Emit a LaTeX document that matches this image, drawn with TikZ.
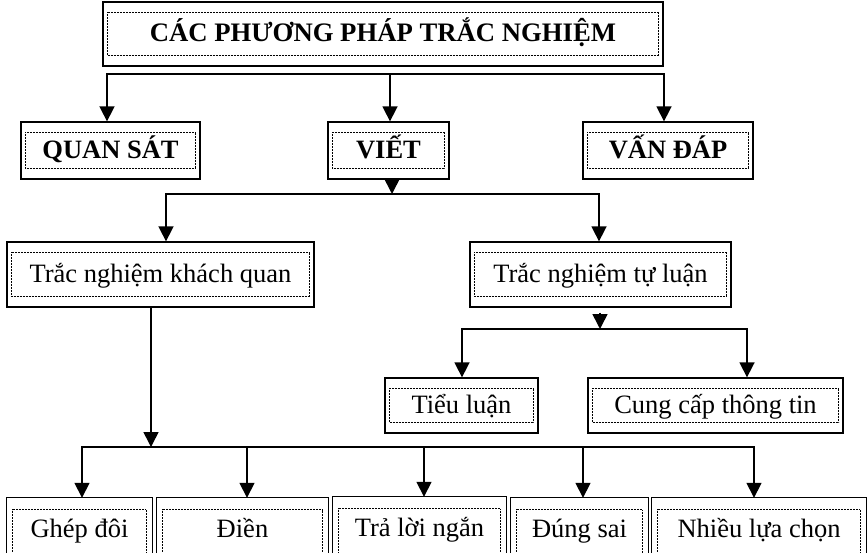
\documentclass[tikz,border=0pt]{standalone}
\usepackage{fontspec}
\setmainfont{Liberation Serif}
\usetikzlibrary{arrows.meta}
\tikzset{
  outerst/.style={draw=black, line width=1.3pt},
  innerst/.style={draw=black, line width=0.7pt, dash pattern=on 0.8pt off 0.7pt},
  txt/.style={inner sep=0pt, text height=21pt, text depth=5pt, font=\fontsize{26.5}{30}\selectfont},
  boxst/.style={txt, outerst},
  openst/.style={txt},
  conn/.style={line width=1.6pt, line join=miter},
  arr/.style={conn, -{Triangle[length=15pt,width=15pt]}},
}
\newcommand{\boxat}[6]{%
  \node[boxst, minimum width={#4-#2}, minimum height={#5-#3}] (#1) at ({(#2+#4)/2},{(#3+#5)/2}) {#6};
  \draw[innerst] ([shift={(5,11)}]#1.north west) rectangle ([shift={(-5,-11)}]#1.south east);
}
\newcommand{\openbox}[5]{%
  \node[openst, minimum width={#4-#2}, minimum height=62] (#1) at ({(#2+#4)/2},{#3+31}) {#5};
  \draw[outerst] (#1.north west) ++(0,80) -- (#1.north west) -- (#1.north east) -- ++(0,80);
  \draw[innerst] ([shift={(6,90)}]#1.north west) -- ([shift={(6,12)}]#1.north west) -- ([shift={(-6,12)}]#1.north east) -- ([shift={(-6,90)}]#1.north east);
}
\begin{document}
\begin{tikzpicture}[x=1pt,y=-1pt]
\fill[white] (0,0) rectangle (867,553);
\useasboundingbox (0,0) rectangle (867,553);
\clip (0,0) rectangle (867,553);

\boxat{title}{103}{2}{663}{66}{\fontsize{26.7}{30}\selectfont\bfseries CÁC PHƯƠNG PHÁP TRẮC NGHIỆM}
\boxat{quansat}{21}{122}{200}{179}{\bfseries QUAN SÁT}
\boxat{viet}{328}{122}{449}{179}{\bfseries VIẾT}
\boxat{vandap}{583}{122}{753}{179}{\bfseries VẤN ĐÁP}
\boxat{khachquan}{7}{242}{314}{307}{Trắc nghiệm khách quan}
\boxat{tuluan}{470}{242}{731}{307}{Trắc nghiệm tự luận}
\boxat{tieuluan}{385}{378}{538}{433}{Tiểu luận}
\boxat{cungcap}{588}{378}{843}{433}{Cung cấp thông tin}
\openbox{ghep}{7}{498}{152}{Ghép đôi}
\openbox{dien}{157}{498}{328}{Điền}
\openbox{traloi}{333}{497}{506}{Trả lời ngắn}
\openbox{dungsai}{511}{498}{648}{Đúng sai}
\openbox{nhieu}{652}{498}{866}{Nhiều lựa chọn}

% level 1 bar
\coordinate (t1) at (107,74);
\coordinate (tm) at (390,74);
\coordinate (t2) at (664,74);
\draw[arr] (tm) -- (t1) -- (t1 |- quansat.north);
\draw[arr] (tm) -- (t2) -- (t2 |- vandap.north);
\draw[arr] (tm) -- (tm |- viet.north);

% level 2 bar
\coordinate (vb) at (392,194);
\coordinate (v1) at (166,194);
\coordinate (v2) at (599,194);
\draw[arr] (vb |- viet.south) -- (vb);
\draw[arr] (vb) -- (v1) -- (v1 |- khachquan.north);
\draw[arr] (vb) -- (v2) -- (v2 |- tuluan.north);

% tu luan bar
\coordinate (u0) at (600,329);
\coordinate (u1) at (462,329);
\coordinate (u2) at (747,329);
\draw[arr] (u0 |- tuluan.south) ++(0,5) -- (u0);
\draw[arr] (u0) -- (u1) -- (u1 |- tieuluan.north);
\draw[arr] (u0) -- (u2) -- (u2 |- cungcap.north);

% khach quan bar
\coordinate (w0) at (151,447);
\coordinate (w1) at (82,447);
\coordinate (w2) at (247,447);
\coordinate (w3) at (424,447);
\coordinate (w4) at (583,447);
\coordinate (w5) at (754,447);
\draw[arr] (w0 |- khachquan.south) -- (w0);
\draw[arr] (w0) -- (w1) -- (w1 |- ghep.north);
\draw[arr] (w0) -- (w5) -- (w5 |- nhieu.north);
\draw[arr] (w2) -- (w2 |- dien.north);
\draw[arr] (w3) -- (w3 |- traloi.north);
\draw[arr] (w4) -- (w4 |- dungsai.north);
\end{tikzpicture}
\end{document}
